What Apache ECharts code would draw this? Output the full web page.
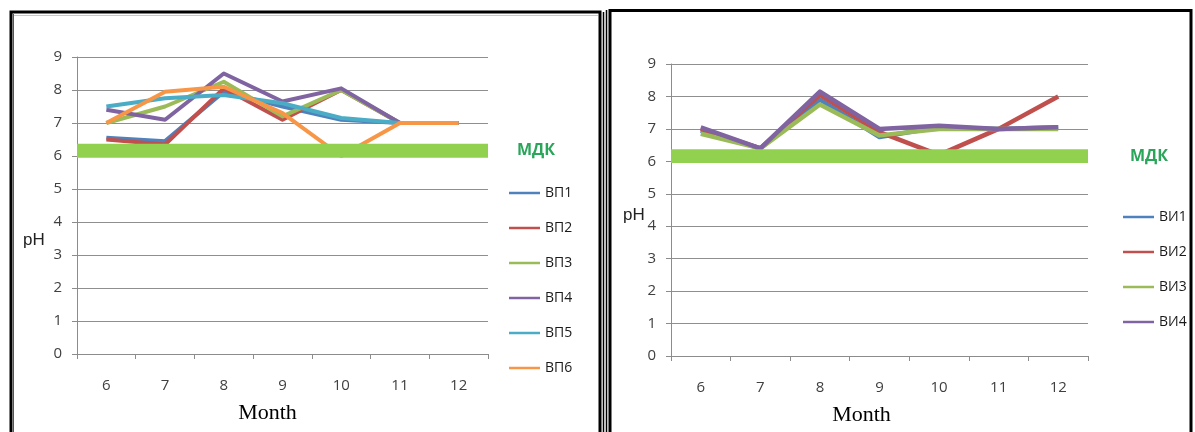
<!DOCTYPE html>
<html>
<head>
<meta charset="utf-8">
<script src="https://cdn.jsdelivr.net/npm/echarts@6/dist/echarts.min.js"></script>
<style>
  html, body { margin: 0; padding: 0; background: #fff; }
  #chart { width: 1195px; height: 432px; }
</style>
</head>
<body>
<div id="chart"></div>
<script>
// Months on the horizontal axis
const months = ['6', '7', '8', '9', '10', '11', '12'];

// pH of the ВП sampling points
const vp1 = [6.55, 6.45, 7.95, 7.5, 7.1, 7.0, 7.0];
const vp2 = [6.5, 6.35, 8.05, 7.1, 8.0, 7.0, 7.0];
const vp3 = [7.0, 7.5, 8.25, 7.2, 8.0, 7.0, 7.0];
const vp4 = [7.4, 7.1, 8.5, 7.65, 8.05, 7.0, 7.0];
const vp5 = [7.5, 7.75, 7.85, 7.6, 7.15, 7.0, 7.0];
const vp6 = [7.0, 7.95, 8.1, 7.3, 6.0, 7.0, 7.0];

// pH of the ВИ sampling points
const vi1 = [6.95, 6.4, 7.9, 6.75, 7.05, 7.0, 7.05];
const vi2 = [7.0, 6.4, 8.05, 6.9, 6.2, 7.0, 8.0];
const vi3 = [6.85, 6.4, 7.75, 6.8, 7.0, 7.0, 7.0];
const vi4 = [7.05, 6.4, 8.15, 7.0, 7.1, 7.0, 7.05];

// МДК band (lower and upper pH)
const mdk = [5.95, 6.37];

const leftNames = ['ВП1', 'ВП2', 'ВП3', 'ВП4', 'ВП5', 'ВП6'];
const leftData = [vp1, vp2, vp3, vp4, vp5, vp6];
const leftColors = ['#4F81BD', '#C0504D', '#9BBB59', '#8064A2', '#4BACC6', '#F79646'];

const rightNames = ['ВИ1', 'ВИ2', 'ВИ3', 'ВИ4'];
const rightData = [vi1, vi2, vi3, vi4];
const rightColors = ['#4F81BD', '#C0504D', '#9BBB59', '#8064A2'];

const tickFont = { fontFamily: 'Open Sans', fontSize: 15, color: '#404040' };

function xAxisFor(gridIndex, padRight) {
  return {
    type: 'category', gridIndex, data: months, boundaryGap: true,
    axisLine: { lineStyle: { color: '#8c8c8c', width: 1 } },
    axisTick: { show: true, length: 5, interval: 0, lineStyle: { color: '#8c8c8c' } },
    axisLabel: Object.assign({ margin: 24, interval: 0 }, tickFont),
    splitLine: { show: false },
    name: 'Month', nameLocation: 'middle', nameGap: 48,
    nameTextStyle: { fontFamily: 'Liberation Serif', fontSize: 22, color: '#000', padding: [0, padRight, 0, 0] }
  };
}
function yAxisFor(gridIndex) {
  return {
    type: 'value', gridIndex, min: 0, max: 9, interval: 1,
    axisLine: { show: true, lineStyle: { color: '#8c8c8c', width: 1 } },
    axisTick: { show: true, length: 5, lineStyle: { color: '#8c8c8c' } },
    axisLabel: Object.assign({ margin: 15 }, tickFont),
    splitLine: { show: true, lineStyle: { color: '#8f8f8f', width: 1 } }
  };
}

function lineSeries(names, data, colors, idx, width) {
  return names.map((n, i) => ({
    name: n, type: 'line', xAxisIndex: idx, yAxisIndex: idx,
    data: data[i], symbol: 'none', smooth: false, z: 2,
    lineStyle: { color: colors[i], width: width, join: 'round' },
    itemStyle: { color: colors[i] },
    emphasis: { disabled: true }
  }));
}

function mdkSeries(idx, dist) {
  return {
    name: 'МДК', type: 'line', xAxisIndex: idx, yAxisIndex: idx,
    data: [], z: 10, silent: true,
    markArea: {
      z: 10, silent: true,
      itemStyle: { color: '#92D050', opacity: 1 },
      label: {
        show: true, position: 'right', distance: dist,
        formatter: 'МДК', fontFamily: 'Open Sans', fontSize: 16, fontWeight: 'bold', color: '#2AA55A'
      },
      data: [[{ yAxis: mdk[0] }, { yAxis: mdk[1] }]]
    }
  };
}

function legendFor(names, left, top) {
  return {
    data: names, orient: 'vertical', left, top,
    icon: 'rect', itemWidth: 31, itemHeight: 2.5, itemGap: 21,
    itemStyle: { borderWidth: 0 },
    textStyle: { fontFamily: 'Open Sans', fontSize: 14, color: '#1a1a1a', lineHeight: 14 },
    selectedMode: false
  };
}

const chart = echarts.init(document.getElementById('chart'), null, { renderer: 'canvas' });

chart.setOption({
  backgroundColor: '#ffffff',
  animation: false,
  grid: [
    { left: 77, top: 57, width: 411, height: 297 },
    { left: 671, top: 64, width: 417, height: 292 }
  ],
  xAxis: [xAxisFor(0, 30), xAxisFor(1, 36)],
  yAxis: [yAxisFor(0), yAxisFor(1)],
  legend: [legendFor(leftNames, 504, 181), legendFor(rightNames, 1118, 205)],
  graphic: [
    { type: 'rect', shape: { x: 11, y: 12, width: 589, height: 460 }, style: { fill: null, stroke: '#000', lineWidth: 3 }, silent: true },
    { type: 'line', shape: { x1: 13.5, y1: 14, x2: 13.5, y2: 432 }, style: { stroke: '#555', lineWidth: 1 }, silent: true },
    { type: 'line', shape: { x1: 14, y1: 15.5, x2: 598, y2: 15.5 }, style: { stroke: '#c8c8c8', lineWidth: 1 }, silent: true },
    { type: 'line', shape: { x1: 603.5, y1: 12, x2: 603.5, y2: 432 }, style: { stroke: '#000', lineWidth: 1.5 }, silent: true },
    { type: 'line', shape: { x1: 606.5, y1: 10, x2: 606.5, y2: 432 }, style: { stroke: '#000', lineWidth: 1.5 }, silent: true },
    { type: 'rect', shape: { x: 610, y: 10.5, width: 581, height: 460 }, style: { fill: null, stroke: '#000', lineWidth: 3 }, silent: true },
    { type: 'text', left: 23, top: 232, style: { text: 'pH', fontFamily: 'Liberation Sans', fontSize: 17, fill: '#222' }, silent: true },
    { type: 'text', left: 623, top: 207, style: { text: 'pH', fontFamily: 'Liberation Sans', fontSize: 17, fill: '#222' }, silent: true }
  ],
  series: [
    ...lineSeries(leftNames, leftData, leftColors, 0, 4),
    mdkSeries(0, 29),
    ...lineSeries(rightNames, rightData, rightColors, 1, 4.5),
    mdkSeries(1, 42)
  ]
});
</script>
</body>
</html>
